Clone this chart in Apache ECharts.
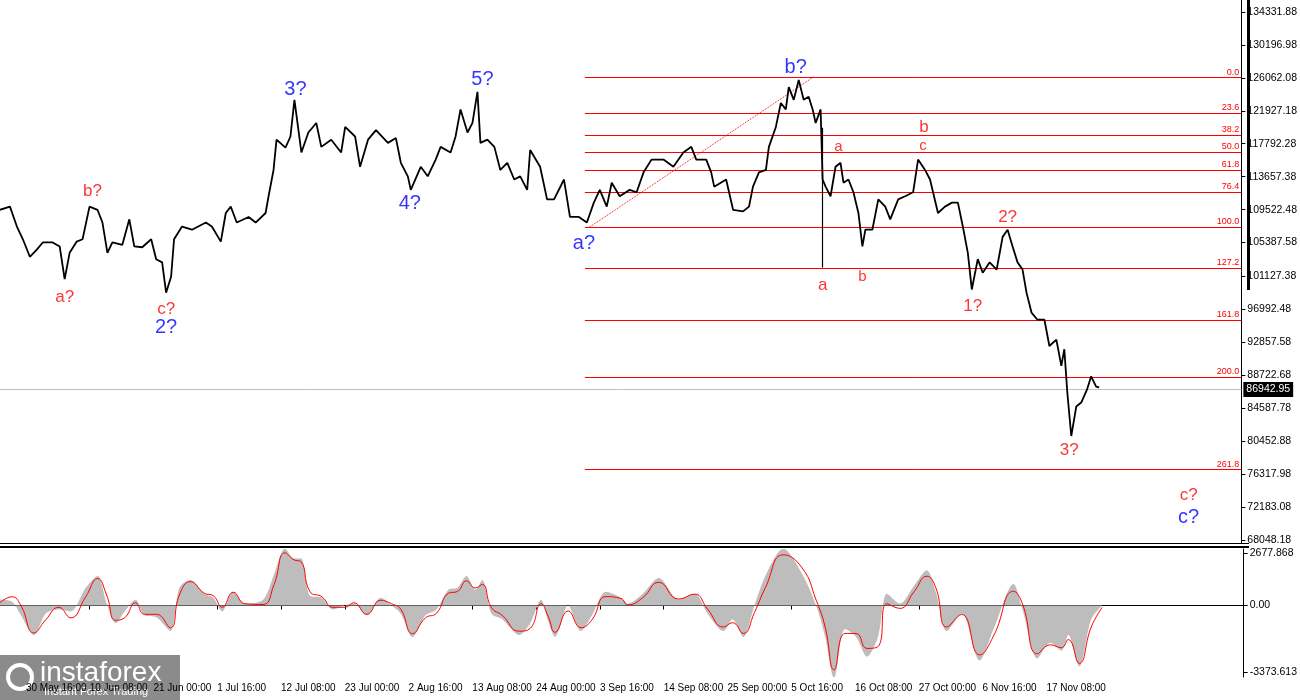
<!DOCTYPE html>
<html><head><meta charset="utf-8">
<script src="https://cdn.jsdelivr.net/npm/echarts@6/dist/echarts.min.js"></script>
<style>html,body{margin:0;padding:0;background:#fff}#c{width:1300px;height:700px}</style>
</head><body><div id="c"></div>
<script>
// hours since 20 May 2025 00:00
const priceHours = [152,192,220,244,272,300,324,364,392,412,432,460,484,512,544,564,584,604,644,672,692,724,760,780,804,820,840,852,884,924,980,1004,1040,1060,1080,1104,1152,1180,1220,1232,1252,1264,1300,1320,1336,1364,1392,1424,1444,1484,1524,1540,1580,1600,1632,1664,1712,1744,1764,1792,1804,1844,1872,1904,1924,1964,1984,2004,2032,2052,2072,2084,2112,2140,2164,2192,2220,2244,2272,2284,2324,2352,2380,2420,2444,2480,2512,2540,2564,2592,2612,2644,2684,2712,2740,2772,2820,2860,2900,2932,2952,2992,3012,3024,3072,3100,3140,3164,3180,3204,3232,3244,3272,3292,3312,3324,3344,3364,3384,3404,3420,3432,3452,3460,3472,3492,3512,3532,3544,3564,3584,3604,3620,3632,3660,3684,3712,3732,3764,3792,3824,3844,3872,3892,3924,3952,3980,4004,4024,4044,4060,4084,4104,4132,4160,4184,4204,4224,4244,4264,4280,4300,4324,4352,4372,4400,4420,4432,4444,4460,4480,4500,4524,4540,4560,4572];
const prices = [109500,109900,107400,105800,103600,104500,105400,105400,104900,100800,104100,105500,105800,109900,109500,107900,104100,105400,105100,108300,104900,104800,105800,103300,102900,99100,101100,105800,107400,107000,107900,107400,105500,109100,109900,107900,108600,107900,109100,111200,114500,118300,117300,118700,123300,116700,119200,120400,117400,118300,116700,119900,118700,114900,118300,119500,117900,118500,115400,113700,112000,114900,113700,115800,117400,116700,118700,122100,119200,120400,124300,117900,118300,117400,114500,115400,113300,113700,112000,117000,114900,110800,110800,113300,108600,108600,107900,110400,112000,109900,112900,111200,112000,111700,114200,115800,115800,114900,116700,117400,115800,115800,114200,112400,113300,109500,109300,109900,112400,114200,114500,117400,119900,122900,122100,124900,123300,125800,123300,123700,122100,120400,122100,113300,112400,111200,114900,115400,112900,113300,111700,109100,104900,107000,107000,110800,109900,108300,110800,111200,111700,115800,114500,113300,109100,109900,110400,110400,107400,104100,99500,103300,101600,102900,102000,106100,107000,104900,102900,102000,99100,96600,95700,95700,92400,93200,89900,92000,86600,81100,84800,85300,87000,88600,87300,87200];
const fibLabels = ['0.0','23.6','38.2','50.0','61.8','76.4','100.0','127.2','161.8','200.0','261.8'];
const fibPrices = [126100,121663,118918,116700,114482,111737,107300,102186,95682,88500,76882];
const fibStartHour = 2504;
const priceTicks = [134331.88,130196.98,126062.08,121927.18,117792.28,113657.38,109522.48,105387.58,101127.38,96992.48,92857.58,88722.68,84587.78,80452.88,76317.98,72183.08,68048.18];
const timeTicks = [256,512,768,1024,1280,1536,1792,2048,2304,2560,2816,3072,3328,3584,3840,4096,4352];
const lastPrice = 86942.95;
const waveText  = ['3?','5?','4?','2?','a?','b?','c?','a?','b?','c?','a','a','b','b','c','2?','1?','3?','c?'];
const waveHours = [1340,2092,1800,820,2500,3352,4932,412,524,820,3524,3460,3620,3868,3864,4204,4064,4452,4932];
const wavePrice = [124558,125811,110274,94737,105262,127315,70930,98496,111777,96992,117416,99999,101128,119797,117541,108520,97368,79325,73686];
const waveKind  = ['B','B','B','B','B','B','B','R','R','R','r','R','r','R','r','R','R','R','R'];
const oscHours = [152,200,236,288,336,388,436,496,544,580,616,652,696,732,780,836,872,916,972,1008,1044,1088,1136,1208,1252,1296,1332,1360,1396,1444,1488,1536,1572,1624,1680,1724,1760,1808,1860,1904,1952,1988,2024,2060,2088,2124,2168,2236,2280,2324,2352,2380,2432,2484,2528,2584,2644,2672,2732,2796,2876,2940,2992,3056,3092,3136,3180,3224,3296,3372,3428,3464,3500,3544,3588,3632,3676,3712,3764,3820,3872,3908,3952,4012,4084,4140,4220,4256,4316,4368,4412,4440,4484,4532,4576];
const oscSignal = [143,447,0,-1396,-716,-90,-626,447,1378,537,-752,-626,143,-447,-447,-1128,537,1217,626,501,-90,680,90,54,1074,2685,2327,2238,716,447,-90,-90,143,-447,269,90,-179,-1432,-626,-394,626,716,1253,895,1074,-90,-501,-1307,-1164,90,-546,-1365,-273,-1128,-728,455,364,36,400,1183,328,582,-182,-1092,-874,-1420,-364,910,2584,1911,273,-1092,-3276,-1420,-1420,-2184,-2093,91,-146,692,1492,910,-1092,-455,-2512,-1547,728,91,-2457,-2002,-2148,-1729,-2948,-1092,-91];
const oscHist = [300,200,-500,-1500,-400,-200,-300,900,1500,100,-900,-300,300,-500,-600,-1300,900,1300,600,400,-300,700,100,300,1600,2900,2400,2400,500,400,-200,0,100,-500,400,0,-400,-1600,-500,-200,800,900,1500,800,1300,-400,-700,-1500,-900,300,-800,-1600,0,-1300,-500,700,400,100,600,1400,300,600,-400,-1300,-700,-1600,0,1500,2900,1600,0,-1600,-3700,-1200,-1600,-2600,-1600,600,100,1000,1800,700,-1300,-400,-2800,-1200,1100,-200,-2700,-1900,-2300,-1500,-3100,-700,0];
const oscTicks = [2677.868, 0, -3373.613];

const base = Date.UTC(2025,4,20,0,0);
const MON=['Jan','Feb','Mar','Apr','May','Jun','Jul','Aug','Sep','Oct','Nov','Dec'];
function fmtHour(h){const d=new Date(base+h*3600000);const p=n=>String(n).padStart(2,'0');return d.getUTCDate()+' '+MON[d.getUTCMonth()]+' '+p(d.getUTCHours())+':'+p(d.getUTCMinutes());}
const XMIN=152, XMAX=5144, FONT='Liberation Sans';
const chart = echarts.init(document.getElementById('c'));
const fibLines = fibPrices.map((p,i)=>[{coord:[fibStartHour,p],label:{formatter:fibLabels[i]}},{coord:[XMAX,p]}]);
const colors={B:'#0000ff',R:'#ff0000',r:'#ff0000'};
const sizes={B:20,R:17,r:15};
chart.setOption({
  animation:false,
  grid:[{left:0,right:52,top:0,height:543},{left:0,right:52,top:549,height:128}],
  xAxis:[
    {gridIndex:0,type:'value',min:XMIN,max:XMAX,show:false},
    {gridIndex:1,type:'value',min:XMIN,max:XMAX,
      axisLine:{show:true,lineStyle:{color:'#000',width:1}},
      axisTick:{show:true,length:4,customValues:timeTicks,lineStyle:{color:'#000'}},
      splitLine:{show:false},
      axisLabel:{customValues:timeTicks,formatter:fmtHour,align:'left',color:'#000',fontFamily:FONT,fontSize:10,margin:6,hideOverlap:false}}
  ],
  yAxis:[
    {gridIndex:0,type:'value',position:'right',min:67672,max:135835,
      axisLine:{show:true,lineStyle:{color:'#000'}},
      axisTick:{show:true,length:4,customValues:priceTicks,lineStyle:{color:'#000'}},
      splitLine:{show:false},
      axisLabel:{customValues:priceTicks,formatter:v=>v.toFixed(2),color:'#000',fontFamily:FONT,fontSize:10.5,margin:6}},
    {gridIndex:1,type:'value',position:'right',min:-3640,max:2880,
      axisLine:{show:true,lineStyle:{color:'#000'}},
      axisTick:{show:true,length:4,customValues:oscTicks,lineStyle:{color:'#000'}},
      splitLine:{show:false},
      axisLabel:{customValues:oscTicks,formatter:v=>v===0?'0.00':String(v),color:'#000',fontFamily:FONT,fontSize:10.5,margin:6}}
  ],
  series:[
    {type:'line',xAxisIndex:0,yAxisIndex:0,data:priceHours.map((h,i)=>[h,prices[i]]),
      symbol:'none',lineStyle:{color:'#000',width:1.8},z:5,
      markLine:{silent:true,symbol:'none',animation:false,
        data:[
          ...fibLines.map(d=>[{...d[0],lineStyle:{color:'#ff0000',width:1,type:'solid'},label:{show:true,position:'insideEndTop',color:'#ff0000',fontSize:9,fontFamily:FONT,distance:[2,1],formatter:d[0].label.formatter}},d[1]]),
          {yAxis:lastPrice,lineStyle:{color:'#c0c0c0',width:1,type:'solid'},label:{show:true,position:'end',formatter:lastPrice.toFixed(2),backgroundColor:'#000',color:'#fff',fontSize:10.5,fontFamily:FONT,padding:[2,3],distance:2}},
          [{coord:[2520,107267],lineStyle:{color:'#ff0000',width:1,type:'dotted'},label:{show:false}},{coord:[3424,126187]}],
          [{coord:[3460,119800],lineStyle:{color:'#000',width:1.2,type:'solid'},label:{show:false}},{coord:[3460,102250]}]
        ]}},
    {type:'scatter',xAxisIndex:0,yAxisIndex:0,symbolSize:0,z:10,
      data:waveHours.map((h,i)=>({value:[h,wavePrice[i]],label:{show:true,position:'inside',formatter:waveText[i],color:colors[waveKind[i]],fontSize:sizes[waveKind[i]],fontFamily:FONT}}))},
    {type:'line',xAxisIndex:1,yAxisIndex:1,data:oscHours.map((h,i)=>[h,oscHist[i]]),symbol:'none',smooth:0.3,
      lineStyle:{width:0},areaStyle:{color:'#bdbdbd',opacity:1,origin:0},z:2},
    {type:'line',xAxisIndex:1,yAxisIndex:1,data:oscHours.map((h,i)=>[h,oscSignal[i]]),symbol:'none',smooth:0.5,
      lineStyle:{color:'#ff0000',width:1},z:3}
  ],
  graphic:[
    {type:'rect',shape:{x:0,y:543,width:1249,height:1},style:{fill:'#000'}},
    {type:'rect',shape:{x:0,y:546,width:1249,height:2},style:{fill:'#000'}},
    {type:'rect',shape:{x:1247,y:0,width:3,height:290},style:{fill:'#000'}},
    {type:'group',left:0,top:655,children:[
      {type:'rect',shape:{x:0,y:0,width:180,height:45},style:{fill:'rgba(110,110,110,0.8)'}},
      {type:'text',style:{x:40,y:4,text:'instaforex',fill:'#fff',font:'28px "Liberation Sans"'}},
      {type:'text',style:{x:44,y:31,text:'Instant Forex Trading',fill:'#fff',font:'11px "Liberation Sans"'}},
      {type:'circle',shape:{cx:20,cy:22,r:12},style:{fill:'none',stroke:'#fff',lineWidth:4}}
    ]}
  ]
});
</script></body></html>
